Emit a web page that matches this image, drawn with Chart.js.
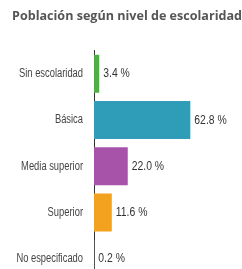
<!DOCTYPE html>
<html>
<head>
<meta charset="utf-8">
<script src="https://cdn.jsdelivr.net/npm/chart.js@4"></script>
<style>
  html, body { margin: 0; padding: 0; background: #fff; overflow: hidden; }
  #wrap { width: 242px; height: 282px; }
</style>
</head>
<body>
<div id="wrap"><canvas id="chart"></canvas></div>
<script>
const categories = ['Sin escolaridad', 'Básica', 'Media superior', 'Superior', 'No especificado'];
const values = [3.4, 62.8, 22.0, 11.6, 0.2];
const valueLabels = ['3.4 %', '62.8 %', '22.0 %', '11.6 %', '0.2 %'];
const barColors = ['#4fae48', '#2f9cb8', '#a653a9', '#f3a21f', '#9e9e9e'];

const sans = '"Liberation Sans", Arial, sans-serif';

// condensed text: the reference uses a narrow face, so squeeze horizontally
function narrowText(ctx, text, x, y, align, squeeze) {
    ctx.save();
    ctx.translate(x, y);
    ctx.scale(squeeze, 1);
    ctx.textAlign = align;
    ctx.fillText(text, 0, 0);
    ctx.restore();
}

const textPlugin = {
    id: 'narrowLabels',
    afterDatasetsDraw(chart) {
        const ctx = chart.ctx;
        const meta = chart.getDatasetMeta(0);
        const yScale = chart.scales.y;
        ctx.save();
        ctx.textBaseline = 'middle';
        // category labels left of the axis
        ctx.font = '12px ' + sans;
        ctx.fillStyle = '#444';
        categories.forEach((c, i) => {
            narrowText(ctx, c, yScale.right - 11, yScale.getPixelForTick(i), 'right', 0.78);
        });
        // values after each bar
        ctx.font = '13px ' + sans;
        ctx.fillStyle = '#333';
        meta.data.forEach((bar, i) => {
            narrowText(ctx, valueLabels[i], bar.x + 4, bar.y, 'left', 0.8);
        });
        ctx.restore();
    }
};

new Chart(document.getElementById('chart'), {
    type: 'bar',
    data: {
        labels: categories,
        datasets: [{
            data: values,
            backgroundColor: barColors,
            borderWidth: 0,
            categoryPercentage: 0.82,
            barPercentage: 1.0,
        }],
    },
    options: {
        indexAxis: 'y',
        responsive: true,
        maintainAspectRatio: false,
        animation: false,
        layout: { padding: { left: 12, right: 0, top: 0, bottom: 0 } },
        plugins: {
            legend: { display: false },
            tooltip: { enabled: false },
            title: {
                display: true,
                text: 'Población según nivel de escolaridad',
                align: 'start',
                color: '#555',
                font: { family: '"Open Sans", sans-serif', size: 13, weight: 'bold' },
                padding: { top: 8, bottom: 27 },
            },
        },
        scales: {
            x: {
                display: false,
                min: 0,
                max: 96.5,
            },
            y: {
                afterFit(scale) { scale.width = 82; },
                grid: { display: false, drawTicks: false },
                border: { display: true, color: '#333', width: 1 },
                ticks: { display: false },
            },
        },
    },
    plugins: [textPlugin],
});
</script>
</body>
</html>
